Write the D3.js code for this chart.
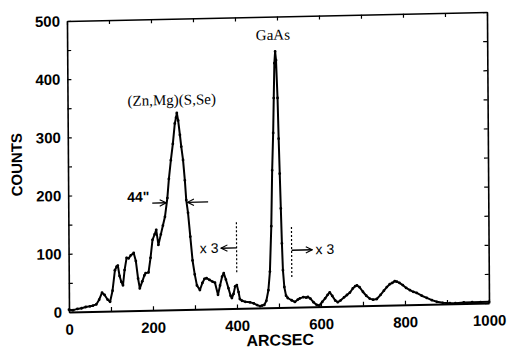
<!DOCTYPE html>
<html>
<head>
<meta charset="utf-8">
<script src="https://cdn.jsdelivr.net/npm/d3@7"></script>
<style>
  body { margin: 0; background: #fff; }
  text { font-family: "Liberation Sans", Arial, sans-serif; }
</style>
</head>
<body>
<svg id="chart" width="508" height="349"></svg>
<script>
// x-ray rocking curve
var arcsec = [0,10,20,30,40,50,57,65,72,79,85,92,98,104,110,114,117,121,125,129,133,138,143,148,155,160,165,169,175,180,183,190,195,200,205,209,214,220,225,230,236,240,245,250,255,258,260,263,267,270,274,278,281,285,290,295,300,305,312,318,323,328,335,342,348,355,360,365,369,374,380,385,388,392,396,400,404,407,412,420,431,440,448,455,460,465,470,475,479,483,486,489,491,493,495,497,500,502,504,506,508,510,513,517,521,530,538,545,550,558,565,569,575,582,590,596,603,610,616,621,627,634,640,647,655,662,669,676,682,686,692,700,708,716,724,733,742,750,757,764,770,776,781,787,795,803,812,820,828,840,852,864,876,890,907,920,940,960,980,1000]
var counts = [4,3,5,6,8,9,10,12,20,32,28,20,16,35,70,76,78,60,50,44,70,91,90,95,99,85,55,38,50,60,64,65,90,121,130,138,112,130,145,160,192,225,257,285,320,330,338,325,300,280,257,222,188,166,125,84,60,41,33,45,52,53,50,47,45,24,40,55,61,50,35,22,18,25,38,40,28,16,13,11,10,8,5,3,4,5,12,30,62,140,236,300,360,420,440,425,360,290,230,170,110,64,35,20,16,12,9,13,15,17,16,17,14,8,3,2,8,14,20,24,18,10,7,10,15,19,23,30,34,35,32,24,17,12,10,11,18,25,31,36,38,41,40,38,34,29,25,22,20,15,11,7,4,2,1,1,2,2,2,2]

var xTicks = d3.range(0, 1001, 100)
var yTicks = d3.range(0, 501, 50)
var xLabels = [0, 200, 400, 600, 800, 1000]
var yLabels = [0, 100, 200, 300, 400, 500]

var peakNames = ["GaAs", "(Zn,Mg)(S,Se)"]
var peakAt = [[490, 460], [248, 352]]
var fwhmText = "44\""
var scaleText = "x 3"

var W = 420, H = 291
var svg = d3.select('#chart')

// the scan is slightly skewed, so the whole plot sits in a sheared group
var g = svg.append('g')
  .attr('transform', 'translate(69,312) matrix(1,-0.0214,0.007,1,0,0)')

var x = d3.scaleLinear().domain([0, 1000]).range([0, W])
var y = d3.scaleLinear().domain([0, 500]).range([0, -H])

svg.append('defs').append('marker')
  .attr('id', 'head')
  .attr('viewBox', '0 0 10 10')
  .attr('refX', 9).attr('refY', 5)
  .attr('markerWidth', 8).attr('markerHeight', 8)
  .attr('markerUnits', 'userSpaceOnUse')
  .attr('orient', 'auto')
  .append('path')
  .attr('d', 'M1,1 L9,5 L1,9')
  .attr('fill', 'none').attr('stroke', '#000').attr('stroke-width', 1.4)

var fmtX = function (d) { return xLabels.indexOf(d) < 0 ? '' : d }
var fmtY = function (d) { return yLabels.indexOf(d) < 0 ? '' : d }

var axB = g.append('g')
  .call(d3.axisBottom(x).tickValues(xTicks).tickSizeInner(-4).tickSizeOuter(0).tickPadding(12).tickFormat(fmtX))
var axL = g.append('g')
  .call(d3.axisLeft(y).tickValues(yTicks).tickSizeInner(-4).tickSizeOuter(0).tickPadding(7).tickFormat(fmtY))
var axT = g.append('g').attr('transform', 'translate(0,' + (-H) + ')')
  .call(d3.axisTop(x).tickValues(xTicks).tickSizeInner(-4).tickSizeOuter(0).tickFormat(''))
var axR = g.append('g').attr('transform', 'translate(' + W + ',0)')
  .call(d3.axisRight(y).tickValues(yTicks).tickSizeInner(-4).tickSizeOuter(0).tickFormat(''))

;[axB, axL, axT, axR].forEach(function (a) {
  a.select('.domain').attr('stroke', '#000').attr('stroke-width', 1.6)
  a.selectAll('.tick line').attr('stroke', '#000').attr('stroke-width', 1.2)
  a.selectAll('text')
    .style('font-family', '"Liberation Sans", Arial, sans-serif')
    .style('font-weight', 'bold').style('font-size', '15px').attr('fill', '#000')
})
axB.select('.domain').attr('stroke-width', 2)

g.append('text')
  .attr('x', x(500) + 1).attr('y', 38)
  .attr('text-anchor', 'middle')
  .style('font-weight', 'bold').style('font-size', '16px')
  .text('ARCSEC')

g.append('text')
  .attr('transform', 'translate(-46,' + y(255) + ') rotate(-90)')
  .attr('text-anchor', 'middle')
  .style('font-weight', 'bold').style('font-size', '15px')
  .text('COUNTS')

var pts = arcsec.map(function (a, i) { return [a, counts[i]] })

g.append('path')
  .datum(pts)
  .attr('fill', 'none').attr('stroke', '#000').attr('stroke-width', 2)
  .attr('stroke-linejoin', 'round')
  .attr('d', d3.line().x(function (d) { return x(d[0]) }).y(function (d) { return y(d[1]) }))

g.selectAll('circle.pt').data(pts).enter().append('circle')
  .attr('class', 'pt')
  .attr('cx', function (d) { return x(d[0]) })
  .attr('cy', function (d) { return y(d[1]) })
  .attr('r', 1.4).attr('fill', '#000')

g.selectAll('text.peak').data(peakNames).enter().append('text')
  .attr('class', 'peak')
  .attr('x', function (d, i) { return x(peakAt[i][0]) })
  .attr('y', function (d, i) { return y(peakAt[i][1]) })
  .attr('text-anchor', 'middle')
  .style('font-family', '"Liberation Serif", "Times New Roman", serif')
  .style('font-size', '15px')
  .text(function (d) { return d })

// FWHM marker
g.append('text')
  .attr('x', x(167)).attr('y', y(187))
  .attr('text-anchor', 'middle')
  .style('font-weight', 'bold').style('font-size', '14px')
  .text(fwhmText)

function arrow(x1, x2, c) {
  g.append('line')
    .attr('x1', x(x1)).attr('x2', x(x2)).attr('y1', y(c)).attr('y2', y(c))
    .attr('stroke', '#000').attr('stroke-width', 1.4)
    .attr('marker-end', 'url(#head)')
}
arrow(200, 233, 184)
arrow(333, 284, 184)

// x3 scale change markers
function dotted(v, c1, c2) {
  g.append('line')
    .attr('x1', x(v)).attr('x2', x(v)).attr('y1', y(c1)).attr('y2', y(c2))
    .attr('stroke', '#000').attr('stroke-width', 1.2)
    .attr('stroke-dasharray', '2,2')
}
dotted(400, 62, 148)
dotted(531, 52, 141)
arrow(400, 363, 104)
arrow(531, 580, 98)

g.append('text')
  .attr('x', x(357)).attr('y', y(96))
  .attr('text-anchor', 'end')
  .style('font-size', '14px')
  .text(scaleText)
g.append('text')
  .attr('x', x(588)).attr('y', y(90))
  .style('font-size', '14px')
  .text(scaleText)
</script>
</body>
</html>
